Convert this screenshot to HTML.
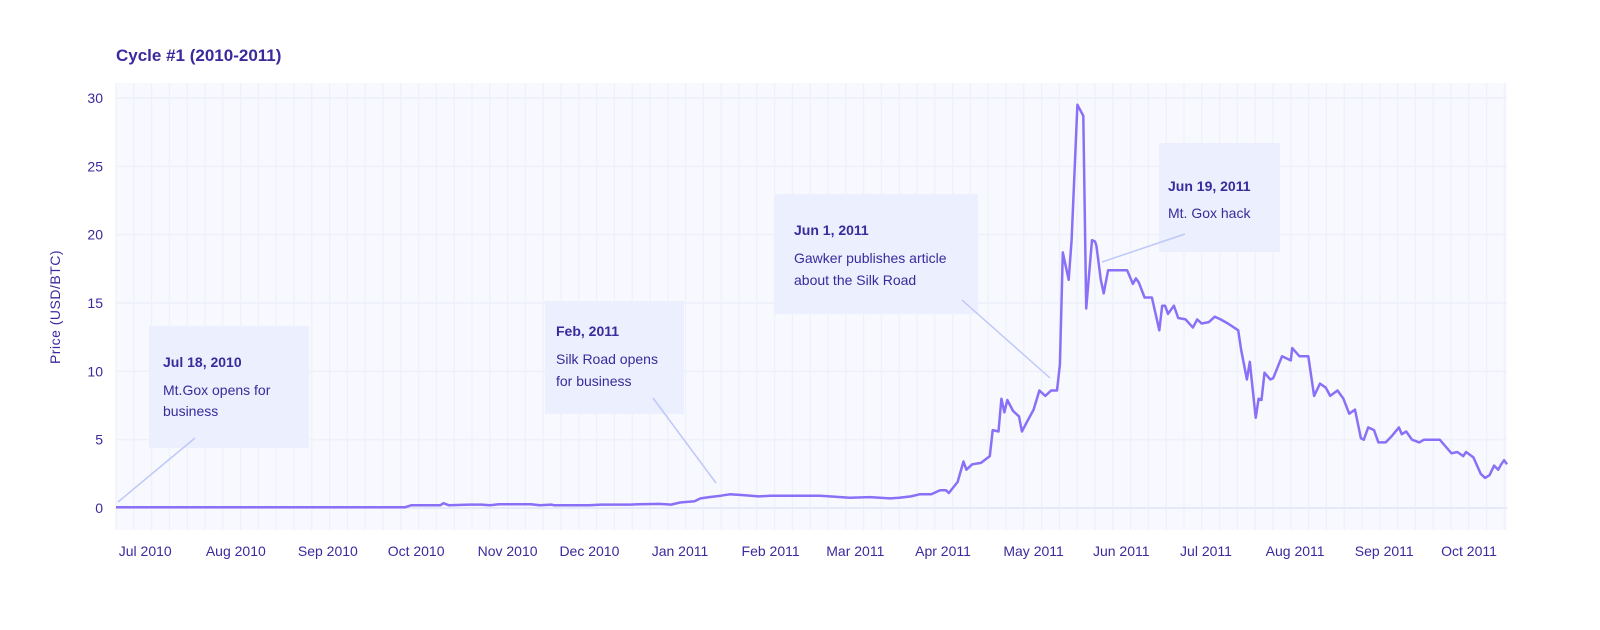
<!DOCTYPE html>
<html><head><meta charset="utf-8"><style>
body{margin:0;background:#fff;width:1600px;height:625px;overflow:hidden;font-family:"Liberation Sans",sans-serif}
</style></head><body>
<svg id="chart" width="1600" height="625" xmlns="http://www.w3.org/2000/svg" font-family="Liberation Sans, sans-serif">
<text x="116" y="61" font-size="17" font-weight="bold" fill="#3a2a9c">Cycle #1 (2010-2011)</text>
<rect x="116" y="83" width="1391" height="447" fill="#f8f9fe"/>
<g id="grid"></g>
<g id="yticks"></g>
<g id="xticks"></g>
<text transform="translate(60,307) rotate(-90)" text-anchor="middle" font-size="14" fill="#3a2a9c" letter-spacing="0.5">Price (USD/BTC)</text>
<path id="line" fill="none" stroke="#8a70f6" stroke-width="2.5" stroke-linejoin="round"/>
<g>
<rect x="149" y="326" width="160" height="122" fill="#eceffd"/>
<line x1="195" y1="438" x2="118" y2="502" stroke="#bfc8f8" stroke-width="1.5"/>
<text x="163" y="367" font-size="14" font-weight="bold" fill="#3a2a9c">Jul 18, 2010</text>
<text x="163" y="395" font-size="14" fill="#3a2a9c">Mt.Gox opens for</text>
<text x="163" y="416" font-size="14" fill="#3a2a9c">business</text>
</g>
<g>
<rect x="545" y="301" width="139" height="113" fill="#eceffd"/>
<line x1="653" y1="398" x2="716" y2="483" stroke="#bfc8f8" stroke-width="1.5"/>
<text x="556" y="336" font-size="14" font-weight="bold" fill="#3a2a9c">Feb, 2011</text>
<text x="556" y="364" font-size="14" fill="#3a2a9c">Silk Road opens</text>
<text x="556" y="386" font-size="14" fill="#3a2a9c">for business</text>
</g>
<g>
<rect x="774" y="194" width="204" height="120" fill="#eceffd"/>
<line x1="962" y1="300" x2="1050" y2="378" stroke="#bfc8f8" stroke-width="1.5"/>
<text x="794" y="235" font-size="14" font-weight="bold" fill="#3a2a9c">Jun 1, 2011</text>
<text x="794" y="263" font-size="14" fill="#3a2a9c">Gawker publishes article</text>
<text x="794" y="285" font-size="14" fill="#3a2a9c">about the Silk Road</text>
</g>
<g>
<rect x="1159" y="143" width="121" height="109" fill="#eceffd"/>
<line x1="1185" y1="234" x2="1102" y2="262" stroke="#bfc8f8" stroke-width="1.5"/>
<text x="1168" y="191" font-size="14" font-weight="bold" fill="#3a2a9c">Jun 19, 2011</text>
<text x="1168" y="218" font-size="14" fill="#3a2a9c">Mt. Gox hack</text>
</g>
</svg>
<script>
const days=[0,99,101,111,112,114,121,125,128,131,142,145,149,150,162,166,176,179,186,190,193,198,200,203,207,210,214,220,224,234,241,248,251,258,265,268,272,275,279,282,284,285,288,290,291,293,296,299,300,302,303,304,305,307,309,310,312,314,316,318,320,322,323,324,326,327,329,331,332,334,335,335.5,337,338,339.5,346,348,349,350,352,354.5,357,358,359,360,362,363.5,366,368.5,370,371.5,374,376,378,380.5,384,385,387,388,390,391,392,393,395,396,399,402,402.5,405,408,410,412,414,415.5,418,420,422,424,426,427,428.5,430.5,432,434.5,436.7,439,440,441.5,443.5,446,447.6,453,455,457,459,461,462,464.5,467,468.5,470,471.6,473,474,475,476];
const prices=[0.06,0.06,0.2,0.2,0.35,0.2,0.25,0.25,0.2,0.28,0.28,0.2,0.25,0.2,0.2,0.25,0.25,0.28,0.3,0.25,0.4,0.5,0.7,0.8,0.9,1.0,0.95,0.85,0.9,0.9,0.9,0.8,0.75,0.8,0.7,0.75,0.85,1.0,1.0,1.3,1.3,1.1,1.9,3.4,2.8,3.2,3.3,3.8,5.7,5.6,8.0,7.0,7.9,7.1,6.7,5.6,6.4,7.2,8.6,8.2,8.6,8.6,10.5,18.7,16.7,19.6,29.5,28.7,14.6,19.6,19.5,19.2,16.7,15.7,17.4,17.4,16.4,16.8,16.5,15.4,15.4,13.0,14.8,14.8,14.2,14.8,13.9,13.8,13.2,13.8,13.5,13.6,14.0,13.8,13.5,13.0,11.6,9.4,10.7,6.6,8.0,7.9,9.9,9.4,9.5,11.1,10.8,11.7,11.1,11.1,8.2,9.1,8.8,8.2,8.6,8.0,6.9,7.2,5.1,5.0,5.9,5.7,4.8,4.8,5.3,5.9,5.4,5.6,5.0,4.8,5.0,5.0,4.5,4.0,4.1,3.8,4.1,3.7,2.5,2.2,2.4,3.1,2.8,3.2,3.5,3.2];
const yTicks=[0,5,10,15,20,25,30];
const monthLabels=["Jul 2010","Aug 2010","Sep 2010","Oct 2010","Nov 2010","Dec 2010","Jan 2011","Feb 2011","Mar 2011","Apr 2011","May 2011","Jun 2011","Jul 2011","Aug 2011","Sep 2011","Oct 2011"];
const monthDays=[10,41,72.5,102.7,134,162,193,224,253,283,314,344,373,403.5,434,463];
const NS="http://www.w3.org/2000/svg";
const X0=116,X1=1507,D1=476;
function xs(d){return X0+d*(X1-X0)/D1;}
function ys(v){return 508-v*(410/30);}
const grid=document.getElementById('grid');
for(let x=X0;x<=X1+1;x+=17.8){
  const l=document.createElementNS(NS,'line');
  
  
  l.setAttribute('x1',x);l.setAttribute('x2',x);l.setAttribute('y1',83);l.setAttribute('y2',530);
  l.setAttribute('stroke','#eef0fa');l.setAttribute('stroke-width','1.2');grid.appendChild(l);
}
const yg=document.getElementById('yticks');
yTicks.forEach(v=>{
  const l=document.createElementNS(NS,'line');
  
  
  l.setAttribute('x1',X0);l.setAttribute('x2',X1);l.setAttribute('y1',ys(v));l.setAttribute('y2',ys(v));
  l.setAttribute('stroke',v===0?'#e6e9f8':'#eef0fa');l.setAttribute('stroke-width',v===0?'2':'1.5');grid.appendChild(l);
  const t=document.createElementNS(NS,'text');
  
  
  t.setAttribute('x',103);t.setAttribute('y',ys(v)+5);t.setAttribute('text-anchor','end');
  t.setAttribute('font-size','14');t.setAttribute('fill','#3a2a9c');t.textContent=v;yg.appendChild(t);
});
const xg=document.getElementById('xticks');
monthLabels.forEach((m,i)=>{
  const t=document.createElementNS(NS,'text');
  
  
  t.setAttribute('x',xs(monthDays[i]));t.setAttribute('y',556);t.setAttribute('text-anchor','middle');
  t.setAttribute('font-size','14');t.setAttribute('fill','#3a2a9c');t.textContent=m;xg.appendChild(t);
});
document.getElementById('line').setAttribute('d',days.map((d,i)=>(i?'L':'M')+xs(d).toFixed(1)+','+ys(prices[i]).toFixed(1)).join(''));
</script>
</body></html>
